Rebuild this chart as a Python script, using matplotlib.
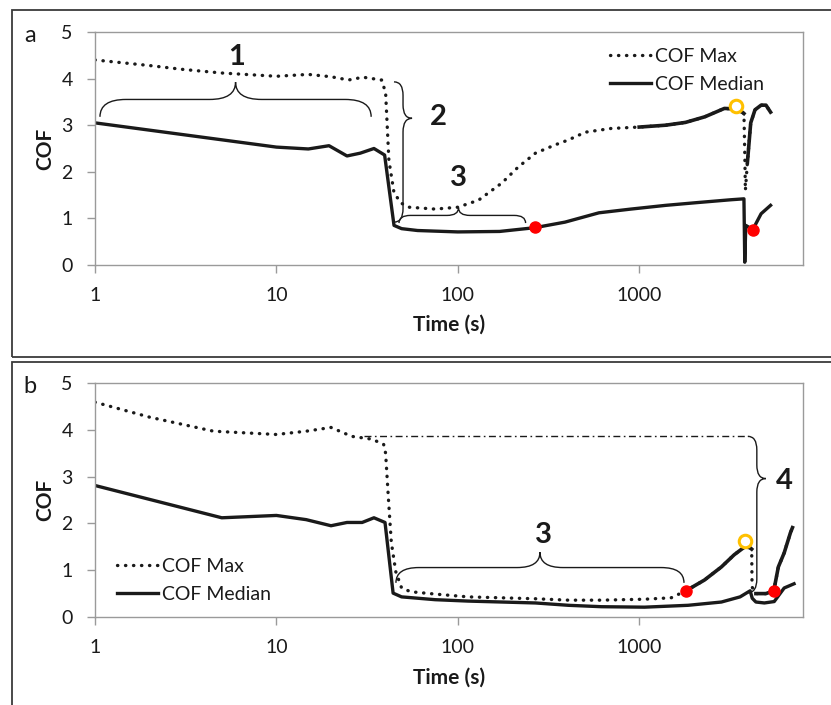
import numpy as np
import matplotlib
matplotlib.use("Agg")
import matplotlib.pyplot as plt
from matplotlib.path import Path
from matplotlib.patches import PathPatch, Rectangle

plt.rcParams['font.family'] = ['Lato', 'DejaVu Sans']

# panel a: time (s) and COF
a_max_t = [1, 2, 3, 5, 10, 15, 20, 25, 30, 38, 40, 41.7, 44.5, 48.6, 54, 75, 100, 130,
           175, 215, 268, 345, 405, 505, 700, 1000, 1400, 1800, 2300, 2950, 3300, 3700,
           3780, 3820, 3850, 3950, 4120, 4350, 4700, 5000, 5300]
a_max = [4.40, 4.28, 4.20, 4.12, 4.05, 4.09, 4.04, 3.97, 4.03, 3.97, 3.70, 2.25, 1.55, 1.33,
         1.24, 1.20, 1.24, 1.39, 1.76, 2.10, 2.40, 2.58, 2.68, 2.85, 2.93, 2.96, 3.00, 3.06,
         3.18, 3.36, 3.35, 3.28, 3.25, 2.40, 1.60, 2.20, 3.05, 3.33, 3.43, 3.43, 3.28]
a_med_t = [1, 10, 15, 19.5, 24.5, 29, 34.5, 39.5, 44.5, 49, 60, 100, 170, 265, 390, 600, 900,
           1400, 2100, 3200, 3780, 3820, 3870, 4230, 4700, 5300]
a_med = [3.05, 2.53, 2.49, 2.56, 2.34, 2.40, 2.50, 2.36, 0.85, 0.78, 0.74, 0.71, 0.72, 0.80,
         0.92, 1.12, 1.20, 1.28, 1.34, 1.40, 1.42, 0.06, 0.85, 0.76, 1.10, 1.28]
a_red_t = [265, 4230]
a_red = [0.82, 0.76]
a_open_t = [3400]
a_open = [3.42]

# panel b
b_max_t = [1, 2, 4.5, 10, 14.6, 20, 26, 33.6, 39, 40, 41.5, 43, 45.5, 49, 55, 75, 114, 175,
           268, 407, 620, 1070, 1500, 1810, 2290, 2840, 3340, 3820, 4080, 4170, 4190, 4400,
           5000, 5520, 5850, 6300, 6820, 7000]
b_max = [4.59, 4.27, 3.97, 3.90, 3.97, 4.05, 3.86, 3.80, 3.69, 3.50, 2.50, 1.60, 0.97, 0.62,
         0.54, 0.49, 0.43, 0.41, 0.39, 0.36, 0.36, 0.38, 0.41, 0.56, 0.79, 1.07, 1.33, 1.50,
         1.48, 1.45, 0.64, 0.50, 0.50, 0.56, 1.07, 1.37, 1.80, 1.91]
b_med_t = [1, 5, 10, 14.6, 20, 24.5, 29.7, 34.5, 39.7, 44, 49, 75, 114, 175, 268, 407, 620,
           1070, 1860, 2840, 3600, 4090, 4200, 4400, 4900, 5550, 6300, 7140]
b_med = [2.81, 2.12, 2.17, 2.08, 1.95, 2.02, 2.02, 2.12, 2.02, 0.51, 0.43, 0.37, 0.34, 0.32,
         0.30, 0.25, 0.22, 0.21, 0.25, 0.32, 0.43, 0.56, 0.40, 0.32, 0.30, 0.33, 0.62, 0.71]
b_red_t = [1810, 5520]
b_red = [0.56, 0.56]
b_open_t = [3820]
b_open = [1.63]
b_level = 3.86
b_level_t = [30.5, 3970]

xticks = [1, 10, 100, 1000]
yticks = [0, 1, 2, 3, 4, 5]

W, H = 831, 705
fig = plt.figure(figsize=(W / 100, H / 100), dpi=100)
ink = '#1a1a1a'
spine = '#9a9a9a'


def brace(ax, p0, p1, depth, frac=0.5, lw=1.0):
    # curly brace from p0 to p1 (data coords), tip bulging to the left of p0->p1
    a = ax.transData.transform(p0) / fig.dpi
    b = ax.transData.transform(p1) / fig.dpi
    d = b - a
    L = np.hypot(*d)
    u = d / L
    n = np.array([-u[1], u[0]])
    h = depth / 72.0
    m = frac * L
    r = min(0.75 * h, m / 2, (L - m) / 2)
    local = [(0, 0), (0, h / 2), (r, h / 2), (m - r, h / 2), (m, h / 2), (m, h),
             (m, h / 2), (m + r, h / 2), (L - r, h / 2), (L, h / 2), (L, 0)]
    codes = [Path.MOVETO, Path.CURVE3, Path.CURVE3, Path.LINETO, Path.CURVE3, Path.CURVE3,
             Path.CURVE3, Path.CURVE3, Path.LINETO, Path.CURVE3, Path.CURVE3]
    verts = [a + t * u + s * n for t, s in local]
    fig.add_artist(PathPatch(Path(verts, codes), fill=False, lw=lw, edgecolor=ink,
                             transform=fig.dpi_scale_trans, clip_on=False))


def setup(ax, letter):
    ax.set_xscale('log')
    ax.set_xlim(1, 8000)
    ax.set_ylim(0, 5)
    ax.set_xticks(xticks)
    ax.set_xticklabels([str(v) for v in xticks])
    ax.xaxis.set_minor_locator(matplotlib.ticker.NullLocator())
    ax.set_yticks(yticks)
    for s in ax.spines.values():
        s.set_color(spine)
        s.set_linewidth(1.0)
    ax.tick_params(direction='out', length=6, width=1.0, color=spine, labelcolor=ink,
                   labelsize=14, pad=10)
    ax.text(-0.0706, 0.5, 'COF', rotation=90, ha='center', va='center', fontsize=15,
            fontweight='bold', color=ink, transform=ax.transAxes)
    ax.text(0.5, -0.2575, 'Time (s)', ha='center', va='center', fontsize=15,
            fontweight='bold', color=ink, transform=ax.transAxes)
    pos = ax.get_position()
    fig.text(30 / W, pos.y1 - 3 / H, letter, ha='center', va='center', fontsize=17, color=ink)


def draw_series(ax, mt, mv, dt, dv, noisy):
    mt = np.array(mt)
    mv = np.array(mv)
    dot, = ax.plot(mt, mv, color=ink, lw=2.4, linestyle=(0, (0.1, 2.3)),
                   dash_capstyle='round', label='COF Max')
    for lo, hi in noisy:
        sel = (mt >= lo) & (mt <= hi)
        ax.plot(mt[sel], mv[sel], color=ink, lw=2.6, solid_joinstyle='round')
    med, = ax.plot(dt, dv, color=ink, lw=2.4, solid_joinstyle='round', label='COF Median')
    return dot, med


# frames around each panel
fig.add_artist(Rectangle((12 / W, 1 - 357 / H), 1.0, (357 - 10) / H, transform=fig.transFigure,
                         fill=False, edgecolor='#3a3a3a', lw=1.3))
fig.add_artist(Rectangle((12 / W, -0.1), 1.0, 0.1 + 1 - 362 / H, transform=fig.transFigure,
                         fill=False, edgecolor='#3a3a3a', lw=1.3))

leg_kw = dict(frameon=False, fontsize=14, handlelength=2.1, handletextpad=0.2,
              labelspacing=0.55, borderpad=0, borderaxespad=0, labelcolor=ink)

ax_a = fig.add_axes([95 / W, 1 - 265 / H, 708 / W, 233 / H])
setup(ax_a, 'a')
h_a = draw_series(ax_a, a_max_t, a_max, a_med_t, a_med, [(900, 3780), (3950, 1e5)])
ax_a.plot(a_red_t, a_red, 'o', color='#ff0000', ms=8, zorder=5)
ax_a.plot(a_open_t, a_open, 'o', mfc='white', mec='#ffc000', mew=2.2, ms=9, zorder=5)
ax_a.legend(handles=h_a, loc='upper left', bbox_to_anchor=(0.728, 0.932), **leg_kw)

ax_b = fig.add_axes([95 / W, 1 - 617 / H, 708 / W, 234 / H])
setup(ax_b, 'b')
h_b = draw_series(ax_b, b_max_t, b_max, b_med_t, b_med, [(1810, 4170), (4400, 1e5)])
ax_b.plot(b_red_t, b_red, 'o', color='#ff0000', ms=8, zorder=5)
ax_b.plot(b_open_t, b_open, 'o', mfc='white', mec='#ffc000', mew=2.2, ms=9, zorder=5)
ax_b.plot(b_level_t, [b_level, b_level], color=ink, lw=1.0, linestyle=(0, (5, 2.5, 1.2, 2.5)))
ax_b.legend(handles=h_b, loc='lower left', bbox_to_anchor=(0.031, 0.06), **leg_kw)

# bracketed regions
brace(ax_a, (1.065, 3.18), (33.3, 3.18), 25, 0.5)
brace(ax_a, (44.5, 3.93), (44.5, 0.92), 13, 0.26)
brace(ax_a, (47.4, 0.90), (236.5, 0.90), 11, 0.47)
brace(ax_b, (45.6, 0.73), (1766, 0.73), 22, 0.5)
brace(ax_b, (3970, 3.86), (3970, 0.52), 13, 0.27)

num = dict(fontsize=21, fontweight='bold', color=ink, ha='center', va='center')
ax_a.text(6.03, 4.46, '1', **num)
ax_a.text(78.6, 3.18, '2', **num)
ax_a.text(101, 1.87, '3', **num)
ax_b.text(297, 1.76, '3', **num)
ax_b.text(6340, 2.90, '4', **num)

fig.savefig('out.png', dpi=100)
